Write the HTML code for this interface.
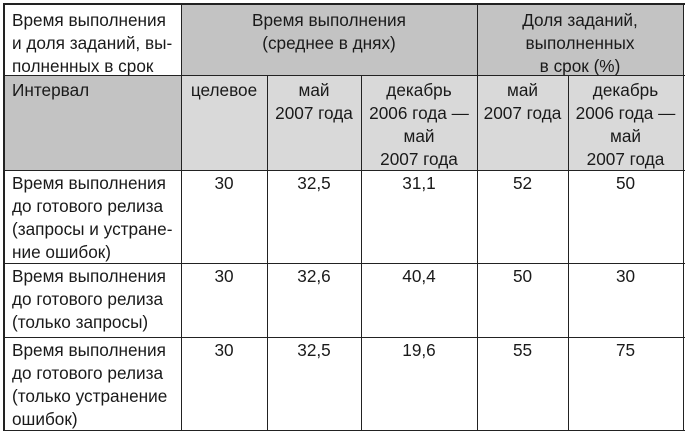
<!DOCTYPE html>
<html><head><meta charset="utf-8"><style>
body{margin:0;width:688px;height:433px;background:#fff;position:relative;overflow:hidden;font-family:"Liberation Sans","DejaVu Sans",sans-serif;font-size:17.2px;line-height:23px;color:#1a1a1a}
.c{position:absolute;box-sizing:border-box;padding:2px 2px 0 8px;white-space:nowrap}
.m{text-align:center;padding-left:0;padding-right:0}
.g{background:#c3c3c3}.l{background:#d9d9d9}
.h{position:absolute;height:1.5px;background:#222}
.v{position:absolute;width:1.5px;background:#222}
</style></head><body>
<div class="c" style="left:4px;top:4px;width:177px;height:71px;padding-top:5px">Время выполнения<br>и доля заданий, вы-<br>полненных в срок</div>
<div class="c m g" style="left:181px;top:4px;width:296px;height:71px;padding-top:5px">Время выполнения<br>(среднее в днях)</div>
<div class="c m g" style="left:477px;top:4px;width:206px;height:71px;padding-top:5px">Доля заданий,<br>выполненных<br>в срок (%)</div>

<div class="c g" style="left:4px;top:75px;width:177px;height:95px;padding-top:4px">Интервал</div>
<div class="c m l" style="left:181px;top:75px;width:86px;height:95px;padding-top:4px">целевое</div>
<div class="c m l" style="left:267px;top:75px;width:94px;height:95px;padding-top:4px">май<br>2007 года</div>
<div class="c m l" style="left:361px;top:75px;width:116px;height:95px;padding-top:4px">декабрь<br>2006 года —<br>май<br>2007 года</div>
<div class="c m l" style="left:477px;top:75px;width:91px;height:95px;padding-top:4px">май<br>2007 года</div>
<div class="c m l" style="left:568px;top:75px;width:115px;height:95px;padding-top:4px">декабрь<br>2006 года —<br>май<br>2007 года</div>

<div class="c" style="left:4px;top:170px">Время выполнения<br>до готового релиза<br>(запросы и устране-<br>ние ошибок)</div>
<div class="c m" style="left:181px;top:170px;width:86px">30</div>
<div class="c m" style="left:267px;top:170px;width:94px">32,5</div>
<div class="c m" style="left:361px;top:170px;width:116px">31,1</div>
<div class="c m" style="left:477px;top:170px;width:91px">52</div>
<div class="c m" style="left:568px;top:170px;width:115px">50</div>

<div class="c" style="left:4px;top:263px">Время выполнения<br>до готового релиза<br>(только запросы)</div>
<div class="c m" style="left:181px;top:263px;width:86px">30</div>
<div class="c m" style="left:267px;top:263px;width:94px">32,6</div>
<div class="c m" style="left:361px;top:263px;width:116px">40,4</div>
<div class="c m" style="left:477px;top:263px;width:91px">50</div>
<div class="c m" style="left:568px;top:263px;width:115px">30</div>

<div class="c" style="left:4px;top:337px">Время выполнения<br>до готового релиза<br>(только устранение<br>ошибок)</div>
<div class="c m" style="left:181px;top:337px;width:86px">30</div>
<div class="c m" style="left:267px;top:337px;width:94px">32,5</div>
<div class="c m" style="left:361px;top:337px;width:116px">19,6</div>
<div class="c m" style="left:477px;top:337px;width:91px">55</div>
<div class="c m" style="left:568px;top:337px;width:115px">75</div>

<div class="h" style="left:3px;top:3px;width:682px"></div>
<div class="h" style="left:3px;top:74.5px;width:682px"></div>
<div class="h" style="left:3px;top:169.5px;width:682px"></div>
<div class="h" style="left:3px;top:262.5px;width:682px"></div>
<div class="h" style="left:3px;top:336.5px;width:682px"></div>
<div class="h" style="left:3px;top:429.5px;width:682px"></div>
<div class="v" style="left:3px;top:3px;height:428px"></div>
<div class="v" style="left:180.5px;top:3px;height:428px"></div>
<div class="v" style="left:266.5px;top:75px;height:356px"></div>
<div class="v" style="left:360.5px;top:75px;height:356px"></div>
<div class="v" style="left:476.5px;top:3px;height:428px"></div>
<div class="v" style="left:567.5px;top:75px;height:356px"></div>
<div class="v" style="left:682.5px;top:3px;height:428px"></div>
</body></html>
